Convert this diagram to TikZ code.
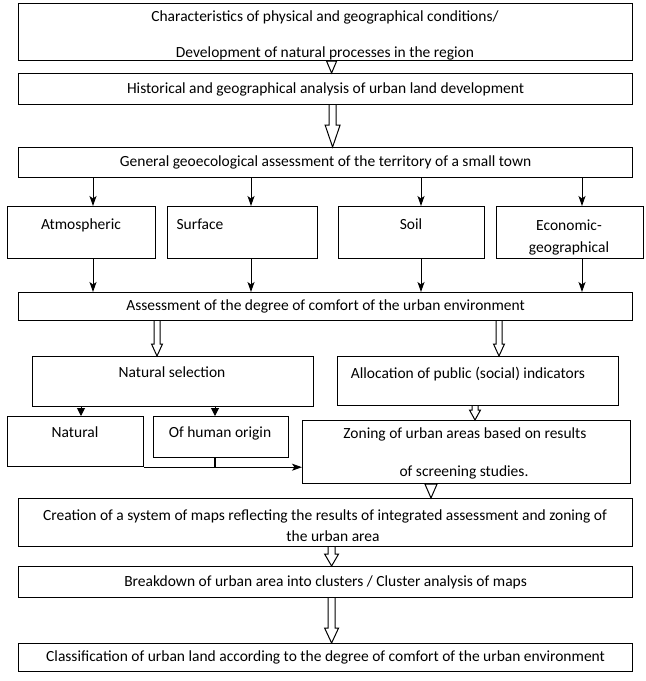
\documentclass[tikz,border=0pt]{standalone}
\usepackage{fontspec}
\setmainfont{Carlito}
\usetikzlibrary{arrows.meta,calc}
\newcommand\hhead[3]{%
  \draw[hol] let \p1=#1, \p2=#2 in (\x1-#3pt,\y1) -- (\x1,\y2) -- (\x1+#3pt,\y1) -- cycle;}
\newcommand\harr[5]{%
  \draw[hol] let \p1=#1, \p2=#2 in (\x1-#4pt,\y1) -- (\x1-#4pt,\y2+#3pt) -- (\x1-#5pt,\y2+#3pt) -- (\x1,\y2) -- (\x1+#5pt,\y2+#3pt) -- (\x1+#4pt,\y2+#3pt) -- (\x1+#4pt,\y1);}
\begin{document}
\begin{tikzpicture}[x=1pt,y=-1pt,font=\fontsize{15.5}{19}\selectfont,
  box/.style={draw,line width=1.2pt,inner sep=0pt,anchor=north west},
  tx/.style={anchor=base,inner sep=0pt},
  arr/.style={line width=1pt,-{Stealth[length=10pt,width=7pt,inset=2.5pt]}},
  tri/.style={line width=1pt,-{Triangle[length=8pt,width=8pt]}},
  hol/.style={line width=1pt,line join=miter},
  ln/.style={line width=1.1pt}]
\fill[white] (0,0) rectangle (646,681);
\useasboundingbox (0,0) rectangle (646,681);
% boxes
\node[box,minimum width=614,minimum height=57] (b1) at (18,3) {};
\node[tx] (b1a) at (325,21) {Characteristics of physical and geographical conditions/};
\node[tx] (b1b) at (325,57) {Development of natural processes in the region};
\node[box,minimum width=614,minimum height=31] (b2) at (18,73) {Historical and geographical analysis of urban land development};
\node[box,minimum width=614,minimum height=30] (b3) at (18,147) {General geoecological assessment of the territory of a small town};
\node[box,minimum width=148,minimum height=52] (atm) at (7,206) {};
\node[tx] (atmt) at (81,229) {Atmospheric};
\node[box,minimum width=150,minimum height=52] (sur) at (167,206) {};
\node[tx] (surt) at (200,229) {Surface};
\node[box,minimum width=146,minimum height=52] (soil) at (338,206) {};
\node[tx] (soilt) at (411,229) {Soil};
\node[box,minimum width=147,minimum height=52] (eco) at (496,206) {};
\node[tx] (ecoa) at (569,230) {Economic-};
\node[tx] (ecob) at (569,252) {geographical};
\node[box,minimum width=614,minimum height=28] (b4) at (18,292) {Assessment of the degree of comfort of the urban environment};
\node[box,minimum width=281,minimum height=50] (ns) at (32,356) {};
\node[tx] (nst) at (172,377) {Natural selection};
\node[box,minimum width=281,minimum height=49] (alloc) at (337,356) {};
\node[tx] (allt) at (468,378) {Allocation of public (social) indicators};
\node[box,minimum width=136,minimum height=50] (nat) at (7,416) {};
\node[tx] (natt) at (75,437) {Natural};
\node[box,minimum width=135,minimum height=41] (hum) at (153,416) {};
\node[tx] (humt) at (220,437) {Of human origin};
\node[box,minimum width=328,minimum height=63] (zon) at (302,420) {};
\node[tx] (zona) at (465,438) {Zoning of urban areas based on results};
\node[tx] (zonb) at (464,476) {of screening studies.};
\node[box,minimum width=614,minimum height=48] (cre) at (18,498) {};
\node[tx] (crea) at (325,520) {Creation of a system of maps reflecting the results of integrated assessment and zoning of};
\node[tx] (creb) at (333,541) {the urban area};
\node[box,minimum width=614,minimum height=31] (brk) at (18,566) {Breakdown of urban area into clusters / Cluster analysis of maps};
\node[box,minimum width=614,minimum height=28] (cls) at (18,643) {Classification of urban land according to the degree of comfort of the urban environment};
% hollow arrows
\hhead{($(b1.south)+(6,0)$)}{(b2.north)}{5}
\harr{($(b2.south)+(7,0)$)}{(b3.north)}{22}{3.5}{7.5}
\harr{(b4.south -| 157,0)}{(ns.north -| 157,0)}{12}{3}{5.5}
\harr{(b4.south -| 499,0)}{(alloc.north -| 499,0)}{12}{3}{5.5}
\harr{(alloc.south -| 475,0)}{(zon.north -| 475,0)}{10}{3}{5.5}
\hhead{(zon.south -| 431,0)}{(cre.north -| 431,0)}{6}
\harr{($(cre.south)+(6,0)$)}{(brk.north)}{12}{3.5}{7}
\harr{($(brk.south)+(6,0)$)}{(cls.north)}{15}{3.5}{7}
% thin arrows
\draw[arr] (b3.south -| 93,0) -- (atm.north -| 93,0);
\draw[arr] (b3.south -| 251,0) -- (sur.north -| 251,0);
\draw[arr] (b3.south -| 421,0) -- (soil.north -| 421,0);
\draw[arr] (b3.south -| 582,0) -- (eco.north -| 582,0);
\draw[arr] (atm.south -| 93,0) -- (b4.north -| 93,0);
\draw[arr] (sur.south -| 251,0) -- (b4.north -| 251,0);
\draw[arr] (soil.south -| 421,0) -- (b4.north -| 421,0);
\draw[arr] (eco.south -| 582,0) -- (b4.north -| 582,0);
\draw[tri] (ns.south -| 81,0) -- (nat.north -| 81,0);
\draw[tri] (ns.south -| 215,0) -- (hum.north -| 215,0);
\coordinate (j) at (nat.south -| 215,0);
\draw[ln] (hum.south -| j) -- (j);
\draw[arr] (nat.south east) -- (zon.west |- nat.south east);
\end{tikzpicture}
\end{document}
